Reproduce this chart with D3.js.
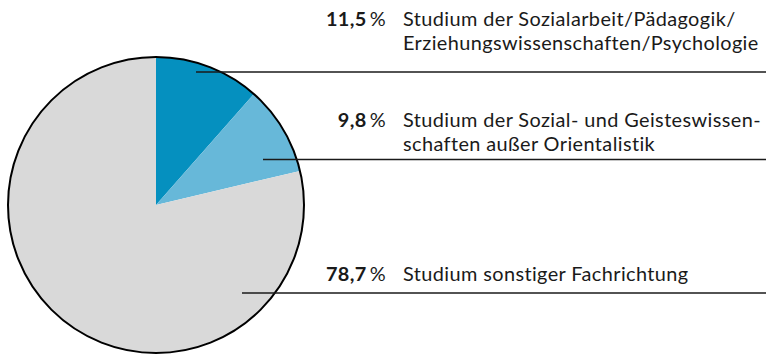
<!DOCTYPE html>
<html lang="de">
<head>
<meta charset="utf-8">
<script src="https://cdn.jsdelivr.net/npm/d3@7"></script>
<style>
  html, body { margin: 0; padding: 0; background: #fff; }
  svg { display: block; }
  text { font-family: Lato, "Open Sans", sans-serif; fill: #1a1a1a; }
</style>
</head>
<body>
<svg id="chart" width="766" height="355"></svg>
<script>
// Anteile der Studienrichtungen (in %)
const categories = [
  ["Studium der Sozialarbeit/Pädagogik/", "Erziehungswissenschaften/Psychologie"],
  ["Studium der Sozial- und Geisteswissen-", "schaften außer Orientalistik"],
  ["Studium sonstiger Fachrichtung"]
];
const values = [11.5, 9.8, 78.7];
const valueLabels = ["11,5", "9,8", "78,7"];
const colors = ["#0590bf", "#67b8d9", "#d9d9d9"];

const W = 766, H = 355;
const cx = 156, cy = 205, R = 148;
const svg = d3.select("#chart");

const pie = d3.pie().sort(null).value(d => d)(values);
const arc = d3.arc().innerRadius(0).outerRadius(R);

const g = svg.append("g").attr("transform", `translate(${cx},${cy})`);
g.selectAll("path.slice")
  .data(pie)
  .join("path")
  .attr("class", "slice")
  .attr("d", arc)
  .attr("fill", (d, i) => colors[i]);

g.append("circle")
  .attr("r", R)
  .attr("fill", "none")
  .attr("stroke", "#000")
  .attr("stroke-width", 2);

// Beschriftungsblöcke: Grundlinie der ersten Zeile, Linie, Startpunkt der Linie im Segment
const layout = [
  { base: 26, rule: 72, x0: 196 },
  { base: 127, rule: 159.5, x0: 263 },
  { base: 281, rule: 293, x0: 242 }
];
const lineH = 24;
const numRight = 386, textLeft = 403;
const fs = 19.9;
const ls = 0.4;

const lab = svg.append("g");
layout.forEach((L, i) => {
  lab.append("line")
    .attr("x1", L.x0).attr("x2", W)
    .attr("y1", L.rule).attr("y2", L.rule)
    .attr("stroke", "#1a1a1a").attr("stroke-width", 1.4);

  const t = lab.append("text")
    .attr("x", numRight).attr("y", L.base)
    .attr("text-anchor", "end")
    .attr("font-size", fs)
    .attr("letter-spacing", ls);
  t.append("tspan").attr("font-weight", 700).text(valueLabels[i]);
  t.append("tspan").text("\u2009%");

  // mehrzeilige Kategorie als ein Textelement mit Zeilen-tspans
  lab.append("text")
    .attr("x", textLeft).attr("y", L.base)
    .attr("font-size", fs)
    .attr("letter-spacing", ls)
    .selectAll("tspan")
    .data(categories[i])
    .join("tspan")
    .attr("x", textLeft)
    .attr("dy", (d, j) => j === 0 ? 0 : lineH)
    .text(d => d);
});
</script>
</body>
</html>
